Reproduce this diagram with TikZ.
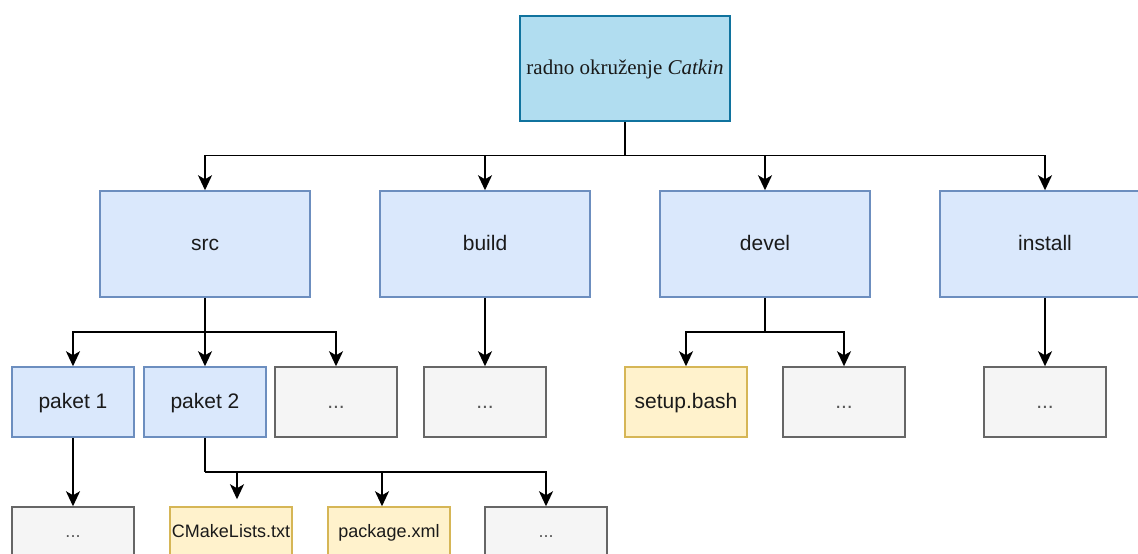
\documentclass[tikz,border=0pt]{standalone}
\usepackage{fontspec}
\setmainfont{Liberation Serif}
\newfontfamily\arial{Liberation Sans}
\usetikzlibrary{arrows.meta}

\definecolor{korijen}{HTML}{B1DDF0}
\definecolor{korijenrub}{HTML}{10739E}
\definecolor{plava}{HTML}{DAE8FC}
\definecolor{plavarub}{HTML}{6C8EBF}
\definecolor{zuta}{HTML}{FFF2CC}
\definecolor{zutarub}{HTML}{D6B656}
\definecolor{siva}{HTML}{F5F5F5}
\definecolor{sivarub}{HTML}{666666}
\definecolor{tekst}{HTML}{1A1A1A}

\tikzset{
  okvir/.style  = {draw, line width = 0.75pt, inner sep = 0pt, text = tekst,
                   text height = 7.6pt, text depth = 1.6pt},
  veliki/.style = {okvir, draw = plavarub, fill = plava, minimum width = 105pt, minimum height = 53pt,
                   font = \arial\fontsize{10.5}{12}\selectfont},
  mali/.style   = {okvir, minimum width = 61pt, minimum height = 35pt,
                   font = \arial\fontsize{10.5}{12}\selectfont},
  donji/.style  = {minimum height = 26pt, font = \arial\fontsize{9}{10}\selectfont,
                   text height = 6.5pt, text depth = 1.8pt},
  paket/.style  = {mali, draw = plavarub, fill = plava},
  datoteka/.style = {mali, draw = zutarub, fill = zuta},
  ostalo/.style = {mali, draw = sivarub, fill = siva, text = sivarub!85!black},
  strelica/.style = {-{Stealth[length = 7.5pt, width = 7pt, inset = 2pt]}, line width = 0.9pt}
}

\begin{document}
\begin{tikzpicture}[x = 0.5pt, y = -0.5pt]
  \useasboundingbox (0,0) rectangle (1138,553);

  \node[okvir, draw = korijenrub, fill = korijen, minimum width = 105pt, minimum height = 52.5pt,
        font = \fontsize{10.5}{12}\selectfont] at (625,68.5) (root) {radno okruženje \textit{Catkin}};

  \node[veliki] at ( 205,244) (src)     {src};
  \node[veliki] at ( 485,244) (build)   {build};
  \node[veliki] at ( 765,244) (devel)   {devel};
  \node[veliki] at (1045,244) (install) {install};

  \node[paket]    at (  73,402) (paket1) {paket 1};
  \node[paket]    at ( 205,402) (paket2) {paket 2};
  \node[ostalo]   at ( 336,402) (sdots)  {...};
  \node[ostalo]   at ( 485,402) (bdots)  {...};
  \node[datoteka] at ( 686,402) (setup)  {setup.bash};
  \node[ostalo]   at ( 844,402) (ddots)  {...};
  \node[ostalo]   at (1045,402) (idots)  {...};

  \node[ostalo, donji]   at (  73,533) (p1dots) {...};
  \node[datoteka, donji] at ( 231,533) (cmake)  {CMakeLists.txt};
  \node[datoteka, donji] at ( 389,533) (pxml)   {package.xml};
  \node[ostalo, donji]   at ( 546,533) (p2dots) {...};

  % grananja
  \coordinate (j0) at (625,155.5);
  \coordinate (j1) at (205,332);
  \coordinate (j2) at (765,332);
  \coordinate (j3) at (205,472);

  \draw[line width = 0.9pt] (root) -- (j0);
  \draw[strelica] (j0) -| (src);
  \draw[strelica] (j0) -| (build);
  \draw[strelica] (j0) -| (devel);
  \draw[strelica] (j0) -| (install);

  \draw[line width = 0.9pt] (src) -- (j1);
  \draw[strelica] (j1) -| (paket1);
  \draw[strelica] (j1) -- (paket2);
  \draw[strelica] (j1) -| (sdots);

  \draw[strelica] (build) -- (bdots);

  \draw[line width = 0.9pt] (devel) -- (j2);
  \draw[strelica] (j2) -| (setup);
  \draw[strelica] (j2) -| (ddots);

  \draw[strelica] (install) -- (idots);

  \draw[strelica] (paket1) -- (p1dots);

  \draw[line width = 0.9pt] (paket2) -- (j3);
  \draw[strelica, shorten > = 3.5pt] (j3) -| ([xshift = 3pt]cmake.north);
  \draw[strelica] (j3) -| ([xshift = -3.5pt]pxml.north);
  \draw[strelica] (j3) -| (p2dots);
\end{tikzpicture}
\end{document}
